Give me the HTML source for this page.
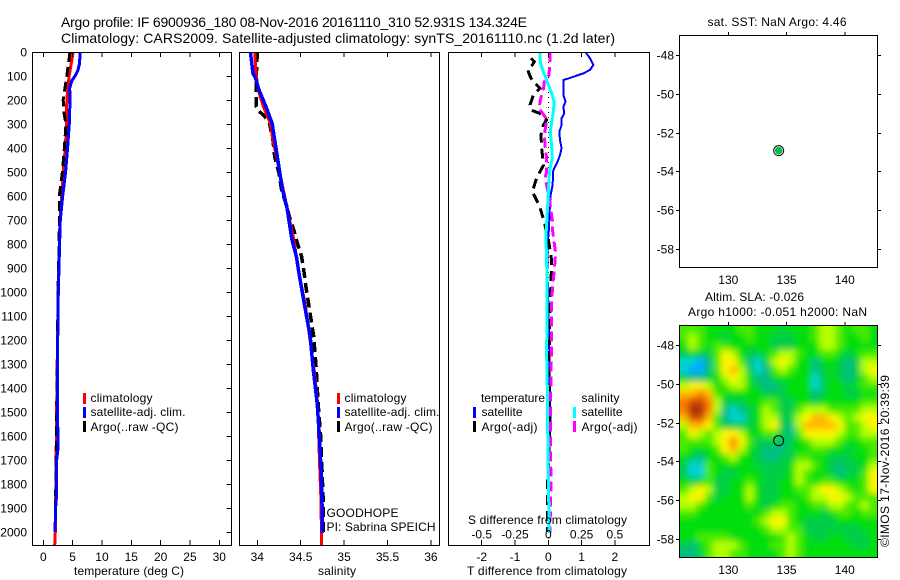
<!DOCTYPE html>
<html>
<head>
<meta charset="utf-8">
<title>Argo profile 6900936_180</title>
<style>
html,body{margin:0;padding:0;background:#fff;}
svg{display:block;}
text{font-family:"Liberation Sans",sans-serif;font-size:12px;fill:#000;}
.title{font-size:14px;}
.crisp{shape-rendering:crispEdges;}
</style>
</head>
<body>
<svg id="chart" width="900" height="580" viewBox="0 0 900 580" xmlns="http://www.w3.org/2000/svg">
<defs>
<clipPath id="clipT"><rect x="32" y="52" width="200" height="494"/></clipPath>
<clipPath id="clipS"><rect x="239" y="52" width="201" height="494"/></clipPath>
<clipPath id="clipD"><rect x="448" y="52" width="202" height="494"/></clipPath>
<clipPath id="clipH"><rect x="680" y="326" width="197" height="231"/></clipPath>
<filter id="soft" filterUnits="userSpaceOnUse" x="640" y="290" width="280" height="300"><feGaussianBlur stdDeviation="3.2"/></filter>
</defs>
<rect width="900" height="580" fill="#fff"/>

<text class="title" x="61" y="27" textLength="466">Argo profile: IF 6900936_180 08-Nov-2016 20161110_310 52.931S 134.324E</text>
<text class="title" x="61" y="43" textLength="554">Climatology: CARS2009. Satellite-adjusted climatology: synTS_20161110.nc (1.2d later)</text>

<g id="heatLayer" clip-path="url(#clipH)"><g id="heatCells" filter="url(#soft)"></g></g>
<g id="marks"></g>

<rect class="crisp" x="32.5" y="52.5" width="199" height="493" fill="none" stroke="#000"/>
<rect class="crisp" x="239.5" y="52.5" width="200" height="493" fill="none" stroke="#000"/>
<rect class="crisp" x="448.5" y="52.5" width="201" height="493" fill="none" stroke="#000"/>
<rect class="crisp" x="679.5" y="35.5" width="198" height="232" fill="none" stroke="#000"/>
<rect class="crisp" x="679.5" y="325.5" width="198" height="232" fill="none" stroke="#000"/>
<g id="axes"></g>

<text x="74" y="575" textLength="110">temperature (deg C)</text>
<text x="318" y="575" textLength="38">salinity</text>
<text x="468" y="524" textLength="159">S difference from climatology</text>
<text x="467" y="575" textLength="160">T difference from climatology</text>

<g>
<rect class="crisp" x="83" y="393" width="3" height="11" fill="#f00"/>
<rect class="crisp" x="83" y="407" width="3" height="11" fill="#00f"/>
<rect class="crisp" x="83" y="421" width="3" height="11" fill="#000"/>
<text x="90.5" y="402" textLength="62">climatology</text>
<text x="90.5" y="416" textLength="95">satellite-adj. clim.</text>
<text x="90.5" y="431" textLength="88">Argo(..raw -QC)</text>
</g>
<g>
<rect class="crisp" x="337" y="393" width="3" height="11" fill="#f00"/>
<rect class="crisp" x="337" y="407" width="3" height="11" fill="#00f"/>
<rect class="crisp" x="337" y="421" width="3" height="11" fill="#000"/>
<text x="344.5" y="402" textLength="62">climatology</text>
<text x="344.5" y="416" textLength="95">satellite-adj. clim.</text>
<text x="344.5" y="431" textLength="88">Argo(..raw -QC)</text>
</g>
<text x="326.5" y="517" textLength="72">GOODHOPE</text>
<text x="326.5" y="531" textLength="109">PI: Sabrina SPEICH</text>

<g>
<text x="481" y="402" textLength="64">temperature</text>
<text x="581.5" y="402" textLength="38">salinity</text>
<rect class="crisp" x="473" y="407" width="3" height="11" fill="#00f"/>
<rect class="crisp" x="473" y="421" width="3" height="11" fill="#000"/>
<rect class="crisp" x="573" y="407" width="3" height="11" fill="#0ff"/>
<rect class="crisp" x="573" y="421" width="3" height="11" fill="#f0f"/>
<text x="481.5" y="416" textLength="41">satellite</text>
<text x="481.5" y="431" textLength="56">Argo(-adj)</text>
<text x="581.5" y="416" textLength="41">satellite</text>
<text x="581.5" y="431" textLength="56">Argo(-adj)</text>
</g>

<text x="707.5" y="26" textLength="139">sat. SST: NaN Argo: 4.46</text>
<text x="705" y="301" textLength="99">Altim. SLA: -0.026</text>
<text x="688" y="316" textLength="179">Argo h1000: -0.051 h2000: NaN</text>
<text transform="translate(889,547) rotate(-90)" x="0" y="0" textLength="172">©IMOS 17-Nov-2016 20:39:39</text>
</svg>

<script>
// ---- axis ticks ----
const depthTicks = [0,100,200,300,400,500,600,700,800,900,1000,1100,1200,1300,1400,1500,1600,1700,1800,1900,2000];
const tempTicks = [0,5,10,15,20,25,30];
const salTicks = [34,34.5,35,35.5,36];
const salTickLabels = ["34","34.5","35","35.5","36"];
const diffTTicks = [-2,-1,0,1,2];
const diffSTicks = [-0.5,-0.25,0,0.25,0.5];
const diffSTickLabels = ["-0.5","-0.25","0","0.25","0.5"];
const lonTicks = [130,135,140];
const latTicks = [-48,-50,-52,-54,-56,-58];
const floatLon = [134.324];
const floatLat = [-52.931];

// ---- temperature profiles ----
const climTempDepth = [0,100,200,300,400,500,600,700,800,1000,1200,1400,1700,2000,2054];
const climTempValue = [5.1,4.4,4.0,3.95,3.75,3.4,3.13,2.85,2.72,2.52,2.42,2.32,2.18,2.05,1.95];
const satTempDepth = [0,50,80,100,120,150,200,300,400,500,600,700,800,1000,1200,1400,1650,1700,1850,1900,2000];
const satTempValue = [6.3,6.15,5.85,5.4,4.85,4.5,4.55,4.43,4.15,3.8,3.3,2.9,2.78,2.55,2.45,2.39,2.5,2.28,2.25,2.1,2.0];
const argoTempDepth = [0,100,150,200,250,300,400,500,600,700,800,1000,1200,1400,1700,1950];
const argoTempValue = [4.55,4.0,3.7,3.4,3.5,3.87,3.6,3.25,2.73,2.75,2.7,2.5,2.42,2.35,2.2,2.05];

// ---- salinity profiles ----
const climSalDepth = [0,89,158,228,297,366,436,505,644,783,922,1047,1325,1464,1741,1880,2054];
const climSalValue = [33.97,33.985,34.01,34.07,34.15,34.18,34.22,34.26,34.34,34.42,34.48,34.55,34.655,34.695,34.72,34.735,34.74];
const satSalDepth = [0,89,110,158,228,297,366,436,505,575,644,714,783,853,922,1047,1186,1325,1464,1603,1741,1880,2005];
const satSalValue = [33.92,33.95,33.98,34.02,34.1,34.17,34.2,34.23,34.26,34.29,34.34,34.37,34.4,34.45,34.48,34.54,34.61,34.645,34.69,34.715,34.734,34.745,34.75];
const argoSalDepth = [0,89,158,228,250,270,297,366,436,505,575,644,686,742,783,853,922,978,1047,1186,1325,1464,1603,1741,1880,2005];
const argoSalValue = [34.0,33.99,33.985,33.99,34.03,34.09,34.14,34.18,34.2,34.25,34.28,34.34,34.37,34.42,34.45,34.51,34.54,34.56,34.59,34.65,34.68,34.7,34.73,34.745,34.76,34.76];

// ---- difference profiles ----
const satDiffTDepth = [0,26,54,75,89,106,117,151,179,207,228,256,276,304,332,367,401,429,457,492,554,596,665,735,804,900,1040,1180,1320,1460,1640];
const satDiffTValue = [1.12,1.25,1.35,1.25,1.05,0.7,0.45,0.45,0.45,0.52,0.45,0.48,0.4,0.4,0.33,0.35,0.4,0.35,0.28,0.15,0.13,0.07,0.04,0.02,-0.02,-0.03,0,0.02,0.04,0.04,0.04];
const argoDiffTDepth = [26,40,54,75,110,130,151,179,221,242,256,283,304,346,401,471,526,582,637,693,721,780,867,970,1033,1180,1320,1533,1800,2000];
const argoDiffTValue = [-0.52,-0.42,-0.48,-0.62,-0.52,-0.4,-0.25,-0.45,-0.55,-0.52,-0.25,-0.05,-0.15,-0.22,-0.2,-0.14,-0.35,-0.48,-0.28,-0.15,-0.1,0,0.1,0.08,0.05,0.04,0.02,0.05,-0.02,-0.03];
const satDiffSDepth = [0,26,54,82,110,138,165,207,250,292,332,388,443,485,526,596,665,735,804,839,978,1117,1256,1395,1533,1783,1922,2005];
const satDiffSValue = [-0.0625,-0.0625,-0.055,-0.0375,-0.0175,0,0.02,0.045,0.0375,0.025,0.015,0.025,0.03,0.0125,0.005,0,-0.0075,-0.015,-0.0175,-0.0125,-0.01,-0.01,-0.0125,-0.0075,-0.005,0,0.005,0.0075];
const argoDiffSDepth = [0,40,96,124,151,179,207,235,249,276,304,346,388,443,499,526,596,665,700,735,839,908,978,1047,1186,1367,1506,1644,1783,1922,2005];
const argoDiffSValue = [0.0125,0.0125,0.005,-0.03,-0.035,-0.05,-0.0625,-0.0675,-0.05,-0.0175,-0.0175,-0.03,-0.025,-0.0125,-0.0125,-0.025,0.005,0.02,0.03,0.03,0.055,0.045,0.0325,0.025,0.025,0.02,0.015,0.015,0.02,0.015,0.0125];

// ---- altimetry SLA heatmap (colour level per grid cell, north to south) ----
const slaGrid = [
[1,1,1,0,0,0,0,1,1,0,0,0,-1,0,0,0,1,2,2,1,0,1,1,0],
[1,2,1,0,0,-1,0,0,1,0,0,-1,-1,-1,0,0,1,2,2,1,0,0,1,0],
[0,2,1,0,1,1,0,0,0,0,0,-1,-1,-1,0,0,0,2,2,1,0,0,0,0],
[-1,0,-1,-1,1,3,2,0,-1,-1,0,1,2,2,1,0,0,1,1,0,-1,0,1,1],
[-3,-3,-4,-2,1,3,3,1,-2,-3,-1,2,3,2,0,0,-2,0,0,-1,-2,-1,2,2],
[-3,-4,-4,-2,1,3,4,2,-1,-3,-2,1,2,1,0,0,-2,-1,0,-1,-2,-1,2,3],
[-1,-2,-2,-1,0,2,3,2,0,-2,-2,0,0,0,0,0,-3,-1,0,-1,-2,-1,1,2],
[2,3,3,2,0,1,2,2,0,-1,-2,-2,-1,0,0,0,-3,-1,0,0,-1,0,1,1],
[4,4,5,4,1,0,0,0,0,0,-1,-1,-1,0,0,0,-2,-1,0,0,-1,-1,0,0],
[5,6,6,5,2,-1,-1,-1,0,0,1,1,-1,-1,0,0,-1,0,0,0,0,0,1,1],
[5,7,7,5,2,-2,-3,-2,-1,0,2,1,-1,-1,1,2,2,2,1,1,1,1,2,2],
[4,6,6,4,1,-2,-3,-3,-1,0,2,2,-1,-1,2,3,4,4,3,2,1,2,3,3],
[2,4,4,3,1,-1,-1,-1,-1,0,2,3,-1,-2,2,4,4,4,4,3,1,1,2,3],
[1,3,2,1,2,3,3,2,0,0,1,1,-1,-2,1,3,3,3,3,2,1,1,2,2],
[1,1,1,1,2,3,5,3,1,-1,-1,-1,-2,-1,0,1,2,2,2,1,0,0,1,1],
[1,0,0,0,1,3,4,2,0,-1,-2,-2,-2,-1,0,0,1,1,0,0,-1,0,0,1],
[0,-1,-2,0,0,1,2,0,0,-1,-2,-2,-1,-1,1,1,0,0,-1,-1,-1,0,0,1],
[-1,-3,-3,1,0,0,0,0,0,-1,-1,-1,-1,0,2,2,1,0,-1,-2,-1,-1,0,2],
[-1,-3,-3,1,0,-1,-1,0,0,0,-1,-1,-1,0,2,1,0,0,-1,-2,-1,-1,1,3],
[0,-1,0,1,-1,-1,0,0,1,0,-1,-1,0,0,2,1,0,1,1,0,0,0,1,3],
[1,2,3,2,-1,-1,0,0,2,0,-1,-1,0,0,1,1,2,3,3,2,1,0,1,3],
[2,3,3,1,-1,0,0,0,2,0,-1,-1,0,0,0,1,2,2,3,3,2,1,1,1],
[2,2,1,0,0,0,0,0,1,0,-1,0,1,1,0,0,1,1,2,2,1,1,2,1],
[1,1,0,0,0,0,0,0,0,0,1,2,2,1,0,0,0,-1,0,1,1,0,1,1],
[0,0,0,0,0,0,0,0,0,1,2,3,3,1,0,-1,-1,-1,-1,0,0,0,0,0],
[0,0,0,0,0,0,0,0,0,0,1,2,2,1,1,-1,-1,-1,-1,-1,-1,-1,0,0],
[0,0,1,1,1,1,0,0,0,0,0,0,1,2,1,0,-1,-1,0,0,-1,-1,-1,0],
[-1,-2,0,1,2,2,2,1,0,0,0,1,1,2,1,0,0,0,0,0,0,-1,-1,0],
[-2,-2,-1,1,2,2,1,1,0,0,0,0,1,2,1,0,0,0,0,0,0,0,0,0]
];

// ---- scales ----
const yDepth = d => 52 + 0.24 * d;
const xTemp = v => 43.3 + 5.867 * v;
const xSal = v => 257.3 + 86.8 * (v - 34);
const xDiffT = v => 548.3 + 33.3 * v;
const xDiffS = v => 548.3 + 133.2 * v;
const xLon = v => 728.3 + 11.65 * (v - 130);
const yLatTop = v => 55 + 19.4 * (-48 - v);
const yLatBottom = v => 345 + 19.4 * (-48 - v);

const NS = 'http://www.w3.org/2000/svg';
const marks = document.getElementById('marks');
const axes = document.getElementById('axes');
const heatCells = document.getElementById('heatCells');

function line(parent, x1, y1, x2, y2) {
  const el = document.createElementNS(NS, 'line');
  el.setAttribute('x1', x1); el.setAttribute('y1', y1);
  el.setAttribute('x2', x2); el.setAttribute('y2', y2);
  el.setAttribute('stroke', '#000');
  el.setAttribute('class', 'crisp');
  parent.appendChild(el);
  return el;
}
function label(parent, x, y, anchor, str) {
  const el = document.createElementNS(NS, 'text');
  el.setAttribute('x', x); el.setAttribute('y', y);
  el.setAttribute('text-anchor', anchor);
  el.textContent = str;
  parent.appendChild(el);
  return el;
}
function profile(depths, values, xf, color, width, dash, clip) {
  const el = document.createElementNS(NS, 'polyline');
  el.setAttribute('points', depths.map((d, i) => xf(values[i]).toFixed(1) + ',' + yDepth(d).toFixed(1)).join(' '));
  el.setAttribute('fill', 'none');
  el.setAttribute('stroke', color);
  el.setAttribute('stroke-width', width);
  el.setAttribute('class', 'crisp');
  if (dash) el.setAttribute('stroke-dasharray', dash);
  el.setAttribute('clip-path', 'url(#' + clip + ')');
  marks.appendChild(el);
  return el;
}

// temperature panel series
let s = profile(climTempDepth, climTempValue, xTemp, '#f00', 3, null, 'clipT');


s = profile(argoTempDepth, argoTempValue, xTemp, '#000', 3, '10 5', 'clipT');


s = profile(satTempDepth, satTempValue, xTemp, '#00f', 3, null, 'clipT');



// salinity panel series
s = profile(argoSalDepth, argoSalValue, xSal, '#000', 3.5, '10 5', 'clipS');


s = profile(climSalDepth, climSalValue, xSal, '#f00', 3, null, 'clipS');


s = profile(satSalDepth, satSalValue, xSal, '#00f', 3.5, null, 'clipS');



// difference panel zero line and series
const zeroLine = line(marks, xDiffT(0), yDepth(0), xDiffT(0), 545);
zeroLine.setAttribute('stroke-dasharray', '1 4');


s = profile(satDiffTDepth, satDiffTValue, xDiffT, '#00f', 2, null, 'clipD');


s = profile(argoDiffTDepth, argoDiffTValue, xDiffT, '#000', 3, '10 6', 'clipD');


s = profile(argoDiffSDepth, argoDiffSValue, xDiffS, '#f0f', 3, '10 5', 'clipD');


s = profile(satDiffSDepth, satDiffSValue, xDiffS, '#0ff', 3, null, 'clipD');



// depth ticks and labels
depthTicks.forEach(d => {
  const t1 = line(axes, 231, yDepth(d) + 0.5, 226.5, yDepth(d) + 0.5);
  
  
  const l = label(axes, 27, yDepth(d) + 4.5, 'end', String(d));
  
  
});
// bottom x axes for the profile panels
tempTicks.forEach(v => {
  [[52, 57], [545, 540]].forEach(p => {
    const t = line(axes, xTemp(v), p[0], xTemp(v), p[1]);
    
    
  });
  const l = label(axes, xTemp(v), 561, 'middle', String(v));
  
  
});
salTicks.forEach((v, i) => {
  [[52, 57], [545, 540]].forEach(p => {
    const t = line(axes, xSal(v), p[0], xSal(v), p[1]);
    
    
  });
  const l = label(axes, xSal(v), 561, 'middle', salTickLabels[i]);
  
  
});
diffTTicks.forEach(v => {
  [[52, 57], [545, 540]].forEach(p => {
    const t = line(axes, xDiffT(v), p[0], xDiffT(v), p[1]);
    
    
  });
  const l = label(axes, xDiffT(v), 561, 'middle', String(v));
  
  
});
diffSTicks.forEach((v, i) => {
  const l = label(axes, xDiffS(v), 538.5, 'middle', diffSTickLabels[i]);
  
  
});

// map axes
[[35, 267, 284, yLatTop], [325, 557, 574, yLatBottom]].forEach(m => {
  lonTicks.forEach(v => {
    const t = line(axes, xLon(v), m[0], xLon(v), m[0] - 3);
    
    
    const l = label(axes, xLon(v), m[2], 'middle', String(v));
    
    
  });
  latTicks.forEach(v => {
    const y = Math.round(m[3](v)) + 0.5;
    const t1 = line(axes, 679, y, 676, y);
    
    
    const t2 = line(axes, 878, y, 881, y);
    
    
    const l = label(axes, 674, y + 4, 'end', String(v));
    
    
  });
});

// heatmap colours
const levelStops = [[0,170,255],[0,210,210],[0,190,130],[0,205,70],[0,222,10],[70,235,0],[180,255,0],[255,245,0],[255,185,0],[250,125,0],[215,70,0],[165,45,10]];
function levelColor(v) {
  const c = levelStops[Math.max(0, Math.min(levelStops.length - 1, Math.round(v) + 4))];
  return 'rgb(' + c.join(',') + ')';
}
const gridRows = slaGrid.length;
const gridCols = slaGrid[0].length;
const heatLeft = 680, heatTop = 326, heatWidth = 197, heatHeight = 231;
slaGrid.forEach((row, r) => {
  row.forEach((v, c) => {
    const cw = heatWidth / gridCols, ch = heatHeight / gridRows;
    const pad = 12;
    const x0 = heatLeft + c * cw - (c === 0 ? pad : 0);
    const y0 = heatTop + r * ch - (r === 0 ? pad : 0);
    const x1 = heatLeft + (c + 1) * cw + (c === gridCols - 1 ? pad : 0.4);
    const y1 = heatTop + (r + 1) * ch + (r === gridRows - 1 ? pad : 0.4);
    const cell = document.createElementNS(NS, 'rect');
    cell.setAttribute('x', x0.toFixed(2));
    cell.setAttribute('y', y0.toFixed(2));
    cell.setAttribute('width', (x1 - x0).toFixed(2));
    cell.setAttribute('height', (y1 - y0).toFixed(2));
    cell.setAttribute('fill', levelColor(v));
    
    
    heatCells.appendChild(cell);
  });
});

// float position markers
const sstRing = document.createElementNS(NS, 'circle');
sstRing.setAttribute('cx', xLon(floatLon[0]));
sstRing.setAttribute('cy', yLatTop(floatLat[0]));
sstRing.setAttribute('r', 5);
sstRing.setAttribute('fill', 'none');
sstRing.setAttribute('stroke', '#000');


axes.appendChild(sstRing);

const sstDot = document.createElementNS(NS, 'circle');
sstDot.setAttribute('cx', xLon(floatLon[0]));
sstDot.setAttribute('cy', yLatTop(floatLat[0]));
sstDot.setAttribute('r', 3.8);
sstDot.setAttribute('fill', '#00bf45');


axes.appendChild(sstDot);

const slaDot = document.createElementNS(NS, 'circle');
slaDot.setAttribute('cx', xLon(floatLon[0]));
slaDot.setAttribute('cy', yLatBottom(floatLat[0]));
slaDot.setAttribute('r', 5);
slaDot.setAttribute('fill', 'none');
slaDot.setAttribute('stroke', '#000');


axes.appendChild(slaDot);
</script>
</body>
</html>
